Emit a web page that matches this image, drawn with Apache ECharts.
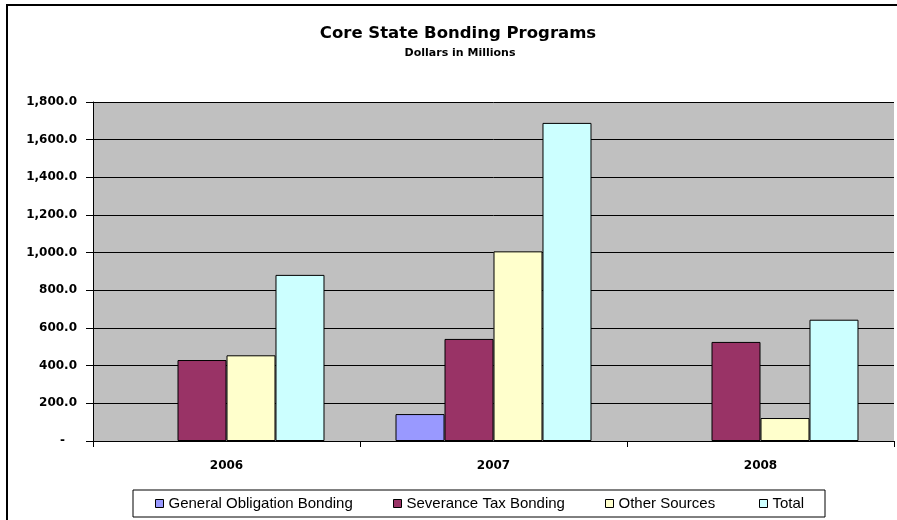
<!DOCTYPE html>
<html>
<head>
<meta charset="utf-8">
<script src="https://cdn.jsdelivr.net/npm/echarts@6/dist/echarts.min.js"></script>
<style>html,body{margin:0;padding:0;background:#fff;}#c{width:897px;height:520px;}</style>
</head>
<body>
<div id="c"></div>
<script>
const categories = ['2006', '2007', '2008'];
const seriesNames = ['General Obligation Bonding', 'Severance Tax Bonding', 'Other Sources', 'Total'];
const generalObligation = [0, 143, 0];
const severanceTax = [430, 542, 526];
const otherSources = [455, 1007, 122];
const total = [882, 1689, 644];
const colors = ['#9999FF', '#993366', '#FFFFCC', '#CCFFFF'];
const yTicks = [0, 200, 400, 600, 800, 1000, 1200, 1400, 1600, 1800];

const values = [generalObligation, severanceTax, otherSources, total];
const chart = echarts.init(document.getElementById('c'), null, {renderer: 'canvas'});
const font = 'Arial, "Liberation Sans", sans-serif';
const wide = '"DejaVu Sans", Verdana, sans-serif';
const legendLefts = [155, 393, 605, 759];

function fmt(v) {
  if (v === 0) return '{z|-}';
  return v.toLocaleString('en-US', {minimumFractionDigits: 1, maximumFractionDigits: 1});
}

chart.setOption({
  animation: false,
  backgroundColor: '#fff',
  graphic: [
    {type: 'rect', shape: {x: 7, y: 5, width: 920, height: 540}, style: {fill: 'none', stroke: '#000', lineWidth: 2}, z: 100},
    {type: 'rect', shape: {x: 133, y: 490, width: 692, height: 27}, style: {fill: '#fff', stroke: '#000', lineWidth: 1}, z: 1},
    {type: 'text', x: 458, y: 34, style: {text: 'Core State Bonding Programs', font: 'bold 16.5px ' + wide, fill: '#000', textAlign: 'center', textVerticalAlign: 'middle'}},
    {type: 'text', x: 460, y: 53, style: {text: 'Dollars in Millions', font: 'bold 11px ' + wide, fill: '#000', textAlign: 'center', textVerticalAlign: 'middle'}}
  ],
  legend: seriesNames.map((n, i) => ({
    data: [n],
    left: legendLefts[i],
    top: 496,
    padding: 0,
    itemWidth: 8,
    itemHeight: 8,
    itemGap: 5,
    icon: 'rect',
    z: 5,
    textStyle: {fontFamily: font, fontSize: 15, color: '#000'},
    itemStyle: {borderColor: '#000', borderWidth: 1}
  })),
  grid: {left: 93, right: 3, top: 102, bottom: 79, backgroundColor: '#C0C0C0', show: true, borderWidth: 0},
  xAxis: {
    type: 'category',
    data: categories,
    axisLine: {lineStyle: {color: '#000', width: 1}},
    axisTick: {show: true, length: 6, lineStyle: {color: '#000'}},
    axisLabel: {fontFamily: wide, fontWeight: 'bold', fontSize: 12, color: '#000', margin: 19}
  },
  yAxis: {
    type: 'value',
    min: 0,
    max: 1800,
    interval: 200,
    axisLine: {show: true, lineStyle: {color: '#000'}},
    axisTick: {show: true, length: 7, lineStyle: {color: '#000'}},
    splitLine: {show: true, lineStyle: {color: '#000', width: 1}},
    axisLabel: {fontFamily: wide, fontWeight: 'bold', fontSize: 12, color: '#000', margin: 16, formatter: fmt,
      customValues: yTicks,
      rich: {z: {fontFamily: wide, fontWeight: 'bold', fontSize: 12, color: '#000', padding: [0, 12, 0, 0]}}}
  },
  series: seriesNames.map((n, i) => ({
    name: n,
    type: 'bar',
    data: values[i].map(v => (v === 0 ? null : v)),
    barGap: '0%',
    barCategoryGap: '26.6%',
    itemStyle: {color: colors[i], borderColor: '#000', borderWidth: 1}
  }))
});
</script>
</body>
</html>
